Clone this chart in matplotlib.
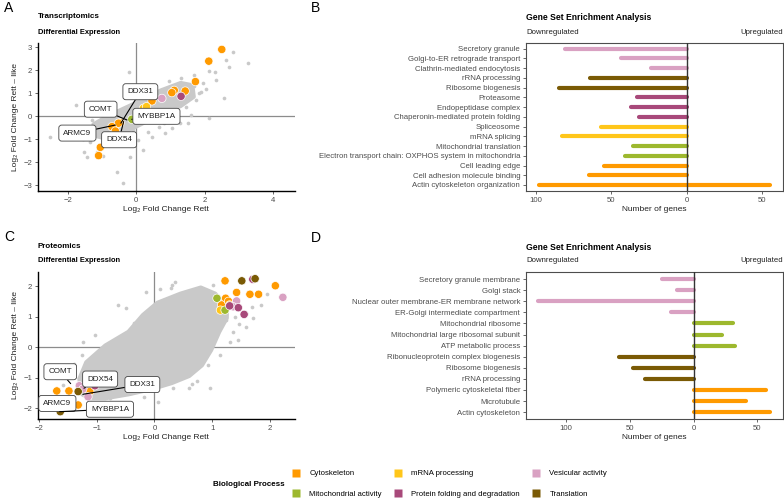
import matplotlib
matplotlib.use("Agg")
import matplotlib.pyplot as plt
from matplotlib.lines import Line2D
from matplotlib.ticker import FuncFormatter

plt.rcParams['font.family'] = ['Liberation Sans', 'DejaVu Sans']

# ---------------- colours ----------------
proc_names = ["Cytoskeleton", "mRNA processing", "Vesicular activity",
              "Mitochondrial activity", "Protein folding and degradation", "Translation"]
proc_colors = ["#FF9A00", "#FFC61A", "#D9A1C2", "#9DB82E", "#A8497A", "#7A5A05"]
CMAP = dict(zip(proc_names, proc_colors))
GREY = "#C9C9C9"

# ---------------- Panel A: transcriptomics scatter ----------------
a_cloud_x = [-1.25, -0.90, -0.56, 0.13, 0.71, 1.30, 1.64, 1.68, 1.30, 0.71, 0.13, -0.36, -0.85, -1.20]
a_cloud_y = [-0.35, -0.05, 0.20, 0.68, 1.12, 1.45, 1.35, 0.85, 0.45, 0.10, -0.35, -0.70, -0.98, -0.85]
a_grey_x = [2.84, 3.28, 2.63, 2.70, 2.14, 2.57, 2.14, 1.68, 1.31, 2.33, -1.77, -2.53, -1.54, -1.44, -0.98,
            -0.55, -0.40, -0.22, -1.55, -1.16, 1.84, 1.45, 1.60, 1.27, 1.50, 1.05, 0.85, 0.66, 0.45, 0.05,
            0.19, -0.19, 2.31, 1.95, 1.70, -1.35, -0.85, 0.95, 1.20, 0.35, -0.60, -1.00, 1.75, 2.05, 0.80,
            -1.45, -1.30, 0.00, 0.55, 1.90, 1.10, -0.10]
a_grey_y = [2.81, 2.33, 2.45, 2.16, 1.99, 0.78, -0.09, 1.80, 1.65, 1.58, 0.49, -0.89, -1.54, -1.77, -1.71,
            -2.41, -2.92, 1.94, -0.97, -1.56, 1.00, 0.41, 0.06, -0.27, -0.31, -0.51, -0.74, -0.45, -0.88, -1.03,
            -1.46, -1.75, 1.94, 1.45, 1.30, -1.10, -1.20, 1.55, 0.90, -0.70, 0.20, -0.20, 0.70, 1.20, -0.30,
            -0.60, -0.15, 0.65, 1.15, 1.05, 0.15, -0.60]
a_hl_x = [2.50, 2.12, 1.73, 1.43, 1.11, 1.04, 0.46, -0.47, -0.52, -0.71, -0.61, -1.05, -1.10,
          0.21, 0.30, 0.75, 1.31, -0.13]
a_hl_y = [2.91, 2.40, 1.51, 1.10, 1.13, 1.03, 0.67, -0.28, -0.30, -0.45, -0.64, -1.35, -1.71,
          0.35, 0.42, 0.78, 0.87, -0.13]
a_hl_proc = ["Cytoskeleton"] * 13 + ["mRNA processing", "mRNA processing", "Vesicular activity",
                                     "Protein folding and degradation", "Mitochondrial activity"]
a_lab_text = ["COMT", "DDX31", "MYBBP1A", "ARMC9", "DDX54"]
a_lab_x = [-1.04, 0.12, 0.59, -1.72, -0.50]
a_lab_y = [0.31, 1.07, 0.00, -0.73, -1.02]
a_tgt_x = [-0.27, -0.45, -0.13, -0.61, -0.37]
a_tgt_y = [-0.16, -0.30, -0.13, -0.38, -0.23]

# ---------------- Panel C: proteomics scatter ----------------
c_cloud_x = [-1.25, -1.30, -1.18, -0.85, -0.45, -0.20, 0.05, 0.45, 0.80, 1.05, 1.25, 1.25, 1.12, 0.98,
             0.82, 0.60, 0.30, -0.05, -0.45, -0.85, -1.12]
c_cloud_y = [-1.55, -1.05, -0.50, 0.05, 0.50, 1.05, 1.45, 1.75, 1.95, 1.75, 1.35, 0.95, 0.50, -0.10,
             -0.60, -0.95, -1.18, -1.38, -1.55, -1.68, -1.68]
c_grey_x = [-1.26, -1.23, -1.03, -0.63, -0.49, -0.14, 0.30, 1.68, 1.59, 1.47, 1.36, 1.30, 1.13, 0.93,
            0.73, 0.59, 0.06, -0.19, -0.40, -1.58, -1.49, -1.41, -0.77, 1.24, 1.94, 1.85, 1.71, 1.59,
            1.45, 0.96, 0.47, 0.32, 0.35, 0.29, 0.09, -1.40, -0.95, -0.35, 1.02, 1.40, 0.65, -1.10]
c_grey_y = [-0.26, 0.15, 0.39, 1.38, 1.27, 1.81, 2.03, 1.32, 1.10, 0.77, 0.49, 0.17, -0.26, -0.59,
            -1.12, -1.35, -1.79, -1.63, -1.52, -1.25, -0.86, -1.63, -1.68, 0.88, 1.73, 1.38, 0.94, 0.67,
            0.23, -1.35, -0.97, -1.35, 2.14, 1.92, 1.90, -0.55, -0.20, 0.80, 2.05, 1.00, -1.20, -1.85]
c_hl_x = [1.22, 2.09, 1.65, 1.80, 1.42, 1.23, 1.16, 1.28, -1.69, -1.48, -1.12, -1.32,
          1.14, 1.30,
          2.22, 1.42, 1.36, -1.30, -1.24, -1.15,
          1.08, 1.22,
          1.45, 1.55, 1.30, 1.70, -1.03,
          1.51, 1.74, -1.32, -1.63]
c_hl_y = [2.17, 2.01, 1.73, 1.73, 1.79, 1.60, 1.38, 1.50, -1.44, -1.44, -1.46, -1.90,
          1.21, 1.38,
          1.63, 1.51, 1.32, -1.27, -1.38, -1.63,
          1.60, 1.21,
          1.29, 1.07, 1.35, 2.22, -1.27,
          2.17, 2.24, -1.46, -2.12]
c_hl_proc = (["Cytoskeleton"] * 12 + ["mRNA processing"] * 2 + ["Vesicular activity"] * 6 +
             ["Mitochondrial activity"] * 2 + ["Protein folding and degradation"] * 5 + ["Translation"] * 4)
c_lab_text = ["COMT", "DDX54", "DDX31", "ARMC9", "MYBBP1A"]
c_lab_x = [-1.63, -0.94, -0.21, -1.68, -0.77]
c_lab_y = [-0.81, -1.05, -1.23, -1.85, -2.04]
c_tgt_x = [-1.45, -1.22, -1.24, -1.63, -1.64]
c_tgt_y = [-1.20, -1.35, -1.55, -2.05, -2.12]

# ---------------- Panel B: GSEA transcriptomics ----------------
b_terms = ["Secretory granule", "Golgi-to-ER retrograde transport", "Clathrin-mediated endocytosis",
           "rRNA processing", "Ribosome biogenesis", "Proteasome", "Endopeptidase complex",
           "Chaperonin-mediated protein folding", "Spliceosome", "mRNA splicing",
           "Mitochondrial translation", "Electron transport chain: OXPHOS system in mitochondria",
           "Cell leading edge", "Cell adhesion molecule binding", "Actin cytoskeleton organization"]
b_down = [81, 44, 24, 64, 85, 33, 37, 32, 57, 83, 36, 41, 55, 65, 98]
b_up = [0, 0, 0, 0, 0, 0, 0, 0, 0, 0, 0, 0, 0, 0, 55]
b_proc = ["Vesicular activity"] * 3 + ["Translation"] * 2 + ["Protein folding and degradation"] * 3 + \
         ["mRNA processing"] * 2 + ["Mitochondrial activity"] * 2 + ["Cytoskeleton"] * 3

# ---------------- Panel D: GSEA proteomics ----------------
d_terms = ["Secretory granule membrane", "Golgi stack", "Nuclear outer membrane-ER membrane network",
           "ER-Golgi intermediate compartment", "Mitochondrial ribosome",
           "Mitochondrial large ribosomal subunit", "ATP metabolic process",
           "Ribonucleoprotein complex biogenesis", "Ribosome biogenesis", "rRNA processing",
           "Polymeric cytoskeletal fiber", "Microtubule", "Actin cytoskeleton"]
d_down = [25, 13, 122, 18, 0, 0, 0, 59, 48, 38, 0, 0, 0]
d_up = [0, 0, 0, 0, 31, 22, 32, 0, 0, 0, 57, 41, 60]
d_proc = ["Vesicular activity"] * 4 + ["Mitochondrial activity"] * 3 + ["Translation"] * 3 + ["Cytoskeleton"] * 3

# ---------------- figure ----------------
W, H = 784, 500
fig = plt.figure(figsize=(W / 100, H / 100), dpi=100)


def fax(l, t, r, b):
    return fig.add_axes([l / W, 1 - b / H, (r - l) / W, (b - t) / H])


TICKC = "#4D4D4D"
TFS = 5.6
XLAB = "Log\u2082 Fold Change Rett"
YLAB = "Log\u2082 Fold Change Rett \u2013 like"


def scatter_panel(ax, cloud_x, cloud_y, gx, gy, hx, hy, hp, lt, lx, ly, tx, ty, xlim, ylim, xt, yt):
    ax.axhline(0, color="#8C8C8C", lw=0.9, zorder=1)
    ax.axvline(0, color="#8C8C8C", lw=0.9, zorder=1)
    ax.fill(cloud_x, cloud_y, color=GREY, lw=3, ec=GREY, joinstyle="round", zorder=2)
    ax.scatter(gx, gy, s=7, color=GREY, lw=0, zorder=2)
    ax.scatter(hx, hy, s=36, c=[CMAP[p] for p in hp], edgecolors="white", linewidths=0.5, zorder=4)
    for t, x, y, px, py in zip(lt, lx, ly, tx, ty):
        ax.annotate(t, xy=(px, py), xytext=(x, y), ha="center", va="center", fontsize=5.9,
                    color="#222222", zorder=6,
                    bbox=dict(boxstyle="round,pad=0.55,rounding_size=0.35", fc="white", ec="#444444", lw=0.6),
                    arrowprops=dict(arrowstyle="-", color="black", lw=0.8, shrinkA=0, shrinkB=0))
    ax.set_xlim(*xlim)
    ax.set_ylim(*ylim)
    ax.set_xticks(xt)
    ax.set_yticks(yt)
    for s in ["top", "right"]:
        ax.spines[s].set_visible(False)
    for s in ["left", "bottom"]:
        ax.spines[s].set_color("black")
        ax.spines[s].set_linewidth(1.0)
    ax.tick_params(labelsize=TFS, colors=TICKC, length=2.5, width=0.6, pad=1.5)
    ax.set_xlabel(XLAB, fontsize=6, color="#222222", labelpad=2)
    ax.set_ylabel(YLAB, fontsize=6, color="#222222", labelpad=3)


def bar_panel(ax, terms, down, up, procs, xlim, xt):
    n = len(terms)
    ys = list(range(n))
    for y, d, u, p in zip(ys, down, up, procs):
        c = CMAP[p]
        if d > 0:
            ax.plot([0, -d], [y, y], color=c, lw=3.0, solid_capstyle="round", zorder=3)
        if u > 0:
            ax.plot([0, u], [y, y], color=c, lw=3.0, solid_capstyle="round", zorder=3)
    ax.axvline(0, color="#333333", lw=1.0, zorder=4)
    ax.set_yticks(ys)
    ax.set_yticklabels(terms)
    ax.set_ylim(n - 1 + 0.62, -0.62)
    ax.set_xlim(*xlim)
    ax.set_xticks(xt)
    ax.xaxis.set_major_formatter(FuncFormatter(lambda v, p: f"{abs(int(v))}"))
    for s in ax.spines.values():
        s.set_color("#4D4D4D")
        s.set_linewidth(0.8)
    ax.tick_params(labelsize=TFS, colors=TICKC, length=2.5, width=0.6, pad=1.5)
    ax.set_xlabel("Number of genes", fontsize=6, color="#222222", labelpad=2)


axA = fax(37.7, 43, 295, 191)
scatter_panel(axA, a_cloud_x, a_cloud_y, a_grey_x, a_grey_y, a_hl_x, a_hl_y, a_hl_proc,
              a_lab_text, a_lab_x, a_lab_y, a_tgt_x, a_tgt_y,
              (-2.88, 4.64), (-3.25, 3.19), [-2, 0, 2, 4], [-3, -2, -1, 0, 1, 2, 3])

axC = fax(37.7, 271.7, 295, 419)
scatter_panel(axC, c_cloud_x, c_cloud_y, c_grey_x, c_grey_y, c_hl_x, c_hl_y, c_hl_proc,
              c_lab_text, c_lab_x, c_lab_y, c_tgt_x, c_tgt_y,
              (-2.02, 2.43), (-2.36, 2.47), [-2, -1, 0, 1, 2], [-2, -1, 0, 1, 2])

axB = fax(525.7, 42.7, 782.7, 191)
bar_panel(axB, b_terms, b_down, b_up, b_proc, (-106.8, 63.4), [-100, -50, 0, 50])

axD = fax(525.7, 272.3, 782.7, 419)
bar_panel(axD, d_terms, d_down, d_up, d_proc, (-131.8, 69.8), [-100, -50, 0, 50])


# ---------------- texts ----------------
def ftext(x, y, s, **kw):
    fig.text(x / W, 1 - y / H, s, **kw)


ftext(4, 8, "A", fontsize=10, va="center", ha="left")
ftext(311, 8, "B", fontsize=10, va="center", ha="left")
ftext(4, 237, "C", fontsize=10, va="center", ha="left")
ftext(311, 238, "D", fontsize=10, va="center", ha="left")

ftext(38, 17, "Transcriptomics", fontsize=5.8, weight="bold", va="center")
ftext(38, 32, "Differential Expression", fontsize=5.4, weight="bold", va="center")
ftext(38, 247, "Proteomics", fontsize=5.8, weight="bold", va="center")
ftext(38, 261, "Differential Expression", fontsize=5.4, weight="bold", va="center")

ftext(526, 17, "Gene Set Enrichment Analysis", fontsize=6.2, weight="bold", va="center")
ftext(526, 32, "Downregulated", fontsize=5.6, va="center", color="#222222")
ftext(783, 32, "Upregulated", fontsize=5.6, va="center", ha="right", color="#222222")
ftext(526, 247, "Gene Set Enrichment Analysis", fontsize=6.2, weight="bold", va="center")
ftext(526, 261, "Downregulated", fontsize=5.6, va="center", color="#222222")
ftext(783, 261, "Upregulated", fontsize=5.6, va="center", ha="right", color="#222222")

# ---------------- legend ----------------
ftext(213, 484, "Biological Process", fontsize=5.8, weight="bold", va="center")
order = [0, 3, 1, 4, 2, 5]
handles = [Line2D([], [], marker="s", ls="none", ms=5.5, color=proc_colors[i], mec="none") for i in order]
labels = [proc_names[i] for i in order]
fig.legend(handles, labels, ncol=3, frameon=False, fontsize=5.6, loc="center left",
           bbox_to_anchor=(289 / W, 1 - 484 / H), handletextpad=1.2, columnspacing=1.6,
           labelspacing=1.7, handlelength=1.0, borderaxespad=0)

fig.savefig("out.png", dpi=100)
